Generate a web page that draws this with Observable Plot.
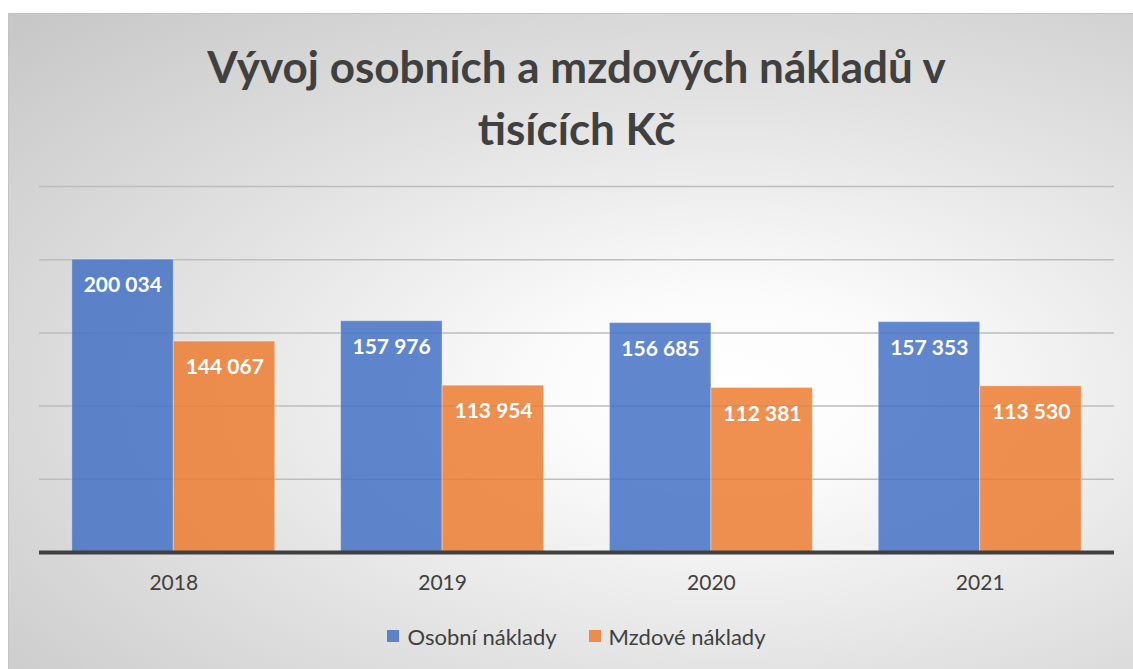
<!DOCTYPE html>
<html>
<head>
<meta charset="utf-8">
<script src="https://cdn.jsdelivr.net/npm/d3@7"></script>
<script src="https://cdn.jsdelivr.net/npm/@observablehq/plot@0.6"></script>
<style>
  html, body { margin: 0; padding: 0; background: #fff; }
  #page { position: relative; width: 1133px; height: 669px; overflow: hidden; background: #fff; font-family: Lato, "Open Sans", sans-serif; }
  #frame { position: absolute; left: 8px; top: 13px; width: 1140px; height: 670px; border: 1px solid #c4c4c4;
    background: radial-gradient(ellipse farthest-corner at 63% 56%, #ffffff 0%, #fbfbfb 18%, #e2e2e2 55%, #c6c6c6 100%); }
  #title { position: absolute; left: 0; width: 1153px; top: 35px; text-align: center; font-weight: bold; font-size: 44px; line-height: 62px; color: #404040; }
  #chart { position: absolute; left: 0; top: 170px; }
  #legend { position: absolute; left: 0; width: 1153px; top: 620px; text-align: center; font-size: 22px; color: #404040; }
  #legend span.item { display: inline-flex; align-items: center; margin: 0 16px; }
  #legend span.sw { display: inline-block; width: 12px; height: 12px; margin-right: 8px; }
</style>
</head>
<body>
<div id="page">
  <div id="frame"></div>
  <div id="title">Vývoj osobních a mzdových nákladů v<br>tisících Kč</div>
  <div id="chart"></div>
  <div id="legend"></div>
</div>
<script>
const years = ["2018", "2019", "2020", "2021"];
const seriesNames = ["Osobní náklady", "Mzdové náklady"];
const osobni = [200034, 157976, 156685, 157353];
const mzdove = [144067, 113954, 112381, 113530];
const gridValues = [50000, 100000, 150000, 200000, 250000];
const colors = ["#4472C4", "#ED7D31"];

const fmt = v => d3.format(",")(v).replace(/,/g, " ");
const dataA = years.map((y, i) => ({year: y, value: osobni[i]}));
const dataB = years.map((y, i) => ({year: y, value: mzdove[i]}));

const half = 101.5;
const plot = Plot.plot({
  width: 1133,
  height: 430,
  marginTop: 16,
  marginBottom: 48,
  marginLeft: 39,
  marginRight: 19,
  style: {background: "transparent", fontFamily: "Lato, 'Open Sans', sans-serif"},
  x: {domain: years, paddingInner: 0.245, paddingOuter: 0.122, round: false, label: null},
  y: {domain: [0, 250000], axis: null},
  marks: [
    Plot.ruleY(gridValues, {stroke: "#bdbdbd", strokeWidth: 1.5}),
    Plot.barY(dataA, {x: "year", y: "value", fill: colors[0], fillOpacity: 0.85, insetRight: half, stroke: "#ffffff", strokeOpacity: 0.35, strokeWidth: 1}),
    Plot.barY(dataB, {x: "year", y: "value", fill: colors[1], fillOpacity: 0.85, insetLeft: half, stroke: "#ffffff", strokeOpacity: 0.35, strokeWidth: 1}),
    Plot.text(dataA, {x: "year", y: "value", text: d => fmt(d.value), dx: -51, dy: 26, fill: "#fff", fontSize: 21, fontWeight: "bold"}),
    Plot.text(dataB, {x: "year", y: "value", text: d => fmt(d.value), dx: 51, dy: 26, fill: "#fff", fontSize: 21, fontWeight: "bold"}),
    Plot.ruleY([0], {stroke: "#404040", strokeWidth: 4}),
    Plot.axisX({tickSize: 0, tickPadding: 23, fontSize: 21, fill: "#404040", label: null})
  ]
});
document.getElementById("chart").appendChild(plot);

const legend = document.getElementById("legend");
seriesNames.forEach((name, i) => {
  const item = document.createElement("span");
  item.className = "item";
  const sw = document.createElement("span");
  sw.className = "sw";
  sw.style.background = colors[i];
  sw.style.opacity = 0.85;
  item.appendChild(sw);
  item.appendChild(document.createTextNode(name));
  legend.appendChild(item);
});
</script>
</body>
</html>
